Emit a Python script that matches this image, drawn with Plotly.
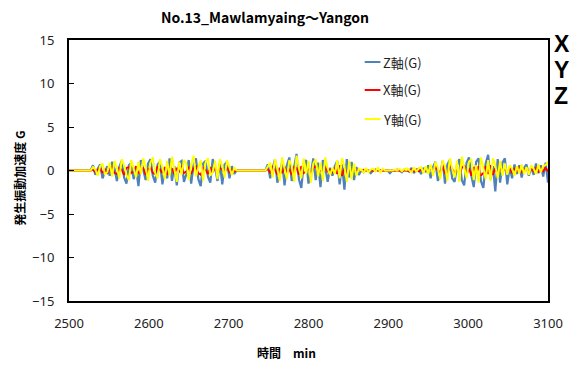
import numpy as np
import plotly.graph_objects as go

# ---- data -------------------------------------------------------------
STEP = 3  # sampling interval, min
T_MIN, T_MAX = 2500, 3100

# start time of each recorded segment (min)
SEG_START = [2530, 2749, 2866, 2923]

# Z axis (G)
Z_SEGS = [
    [0.6, -0.5, 0.2, 0.7, -0.9, -0.3, 0.5, -0.6, 1.0, 0.2,
     -1.2, 0.4, 1.1, -0.8, -1.5, 0.6, 0.9, -1.0, 0.3, -1.8,
     1.2, 0.1, -1.1, 0.8, 1.3, -0.6, -1.4, 0.7, 1.0, -1.6,
     0.2, -0.9, 1.4, -1.2, 0.5, -1.7, 0.9, 1.1, -1.3, -0.4,
     1.2, -1.5, 0.6, 1.4, -1.0, -1.8, 0.8, 1.1, -0.7, -1.4,
     1.3, 0.4, -1.2, 0.9, -1.6, 0.7, 1.0, -0.9, 0.5, -0.4],
    [0.7, -0.9, 0.3, 1.3, -1.4, -0.5, 1.0, -1.7, 0.6, 1.5,
     -1.2, 0.2, 1.9, -1.0, -2.0, 0.8, 1.2, -1.5, -0.3, 1.4,
     -1.1, 0.9, -1.9, 1.2, 0.4, -1.3, 0.3, -0.6, 0.5, 1.1,
     -1.6, 0.7, -2.2, 1.3, -0.8, 1.0, -1.1, 0.4, -0.5],
    [0.1, -0.2, 0.1, 0.0, -0.3, 0.0, 0.1, 0.0, 0.0, 0.0,
     0.0, 0.0, -0.3, 0.0, 0.0, 0.1, 0.0, -0.2, 0.1],
    [0.2, -0.1, 0.3, -0.3, 0.1, 0.2, -0.4, 0.3, -0.2, 0.6,
     -0.9, 0.4, 1.0, -1.2, -0.5, 1.1, -1.5, 0.7, 1.2, -0.9,
     -1.3, 0.6, 1.3, -1.1, -1.7, 0.9, 1.5, -0.6, -1.9, 1.0,
     1.4, -1.2, -2.0, 0.8, 1.8, -1.0, 0.5, -2.4, 1.3, -1.4,
     0.9, 1.4, -1.6, 0.4, -0.9, 0.7, -0.4, 0.6, -0.8, 0.3,
     0.7, -0.6, 0.4, -0.5, 0.8, -0.3, 0.6, -0.7, 0.9, -1.4],
]

# X axis (G)
X_SEGS = [
    [0.1, -0.2, 0.1, 0.3, -0.3, 0.1, -0.3, 0.2, 0.4, -0.3,
     -0.4, 0.3, 0.1, -0.5, 0.3, 0.4, -0.3, -0.1, 0.5, -0.4,
     0.2, 0.3, -0.5, 0.1, 0.4, -0.3, -0.4, 0.5, 0.1, -0.3,
     0.4, -0.5, 0.3, 0.2, -0.4, 0.3, -0.2, 0.5, -0.3, -0.1,
     0.4, -0.4, 0.3, 0.5, -0.3, -0.5, 0.3, 0.1, -0.4, 0.4,
     -0.2, 0.3, -0.4, 0.3, 0.1, -0.3, 0.4, -0.2, 0.1, -0.1],
    [0.2, -0.3, 0.4, 0.1, -0.5, 0.3, -0.3, 0.5, -0.4, 0.2,
     -0.5, 0.4, 0.3, -0.5, 0.5, -0.3, -0.1, 0.4, -0.6, 0.3,
     0.5, -0.4, 0.2, -0.5, 0.4, -0.1, 0.1, -0.2, 0.3, -0.4,
     0.6, -0.6, 0.3, -0.5, 0.4, -0.3, 0.2, -0.1, 0.1],
    [0.0, 0.1, 0.0, -0.1, 0.0, 0.0, 0.1, 0.0, 0.0, 0.0,
     0.0, 0.0, 0.0, 0.0, 0.0, 0.0, 0.0, -0.1, 0.0],
    [0.1, -0.1, 0.1, -0.1, 0.1, -0.1, 0.1, -0.1, 0.2, -0.2,
     0.3, -0.3, 0.4, 0.1, -0.4, 0.5, -0.3, -0.5, 0.6, 0.2,
     -0.4, 0.5, -0.6, 0.3, 0.6, -0.5, 0.3, -0.6, 0.4, -0.3,
     0.5, -0.6, -0.3, 0.5, -0.4, 0.6, -0.5, 0.3, -0.5, 0.4,
     -0.3, 0.3, -0.2, 0.3, -0.3, 0.2, -0.1, 0.3, -0.2, 0.1,
     0.2, -0.3, 0.2, -0.1, 0.3, -0.2, 0.3, -0.1, 0.3, -0.1],
]

# Y axis (G)
Y_SEGS = [
    [0.4, 0.1, -0.6, 0.5, 0.8, -0.4, -0.2, 0.9, -0.7, 1.1,
     0.3, -0.9, 1.3, 0.6, -0.5, -1.1, 1.2, 0.2, -0.8, 1.0,
     -0.4, 1.4, 0.5, -1.2, 0.9, 1.5, -0.3, -0.9, 1.3, 0.4,
     -1.0, 1.1, -0.6, 1.6, 0.2, -1.3, 1.0, -0.5, 1.2, 0.8,
     -1.1, 0.6, 1.7, -0.7, 0.3, 1.2, -1.2, 0.9, 1.4, -0.6,
     -0.2, 1.1, -1.0, 1.3, 0.5, -0.8, 1.2, 0.2, -0.5, 0.3],
    [0.5, 0.9, -0.8, 1.3, 0.2, -1.2, 1.5, 0.4, -1.0, 1.2,
     0.6, -1.3, 1.7, 0.3, -0.9, 1.4, -0.4, 1.1, -1.4, 0.8,
     1.3, -0.7, 0.9, -1.2, 1.5, 0.2, -0.5, 0.3, -0.4, 1.2,
     -0.9, 1.4, 0.5, -1.3, 1.1, -1.0, 0.8, -0.6, 0.2],
    [0.2, -0.3, 0.3, -0.2, 0.1, 0.2, -0.1, 0.3, -0.2, 0.2,
     0.0, 0.0, 0.0, 0.0, 0.1, 0.0, 0.2, -0.1, 0.2],
    [0.3, 0.1, -0.2, 0.3, -0.1, 0.2, 0.4, -0.3, 0.5, -0.4,
     0.7, -0.6, 1.0, 0.3, -1.0, 1.2, 0.5, -1.2, 1.4, 0.2,
     -0.8, 1.1, -1.3, 1.6, 0.4, -0.9, 1.0, 1.3, -1.1, 0.6,
     -1.4, 1.5, 0.3, -1.0, 1.2, -1.2, 1.4, 0.6, -0.9, 1.1,
     -0.6, 0.8, -0.5, 0.6, 0.2, -0.6, 0.5, -0.3, 0.7, -0.4,
     0.4, -0.5, 0.6, 0.2, -0.4, 0.7, -0.2, 0.5, 0.6, 1.0],
]

SERIES_NAMES = ["Z軸(G)", "X軸(G)", "Y軸(G)"]
SERIES_COLORS = ["#4F81BD", "#FF0000", "#FFFF00"]
SERIES_WIDTHS = [2.2, 1.8, 2.0]

TITLE = "No.13_Mawlamyaing～Yangon"
X_TITLE = "時間　min"
Y_TITLE = "発生振動加速度 G"
SIDE_LABELS = ["X", "Y", "Z"]


def assemble(segments):
    """Join the recorded segments into one trace, resting at 0 G between them."""
    xs, ys = [T_MIN], [0.0]
    for start, vals in zip(SEG_START, segments):
        t = start + STEP * np.arange(len(vals))
        if xs[-1] < start - STEP:
            xs.append(start - STEP)
            ys.append(0.0)
        xs.extend(t.tolist())
        ys.extend(vals)
        xs.append(float(t[-1] + STEP))
        ys.append(0.0)
    xs.append(T_MAX)
    ys.append(0.0)
    return xs, ys


fig = go.Figure()
for name, color, lw, segs in zip(SERIES_NAMES, SERIES_COLORS, SERIES_WIDTHS,
                                 [Z_SEGS, X_SEGS, Y_SEGS]):
    x, y = assemble(segs)
    fig.add_trace(go.Scatter(x=x, y=y, mode="lines", name=name,
                             line=dict(color=color, width=lw), showlegend=False))

# plot area in pixels (for placing the hand-made legend and labels)
L, R, T, B = 69, 555, 40, 301
W, H = R - L, B - T


def px(xp):
    return (xp - L) / W


def py(yp):
    return (B - yp) / H


shapes, annotations = [], []
legend_rows = [62, 90, 119]
for name, color, yrow in zip(SERIES_NAMES, SERIES_COLORS, legend_rows):
    shapes.append(dict(type="line", xref="paper", yref="paper",
                       x0=px(369), x1=px(385), y0=py(yrow), y1=py(yrow),
                       line=dict(color=color, width=2)))
    annotations.append(dict(text=name, xref="paper", yref="paper",
                            x=px(386), y=py(yrow), xanchor="left", yanchor="middle",
                            showarrow=False,
                            font=dict(family="Noto Sans CJK JP", size=13, color="#222")))

annotations.append(dict(text=f"<b>{Y_TITLE}</b>", xref="paper", yref="paper",
                        x=px(18), y=py(178), textangle=-90, showarrow=False,
                        xanchor="center", yanchor="middle",
                        font=dict(family="Noto Sans CJK JP", size=12, color="#000")))
annotations.append(dict(text=f"<b>{X_TITLE}</b>", xref="paper", yref="paper",
                        x=px(290), y=py(352), showarrow=False,
                        xanchor="center", yanchor="middle",
                        font=dict(family="Noto Sans CJK JP", size=12, color="#000")))

for lab, yl in zip(SIDE_LABELS, [44, 70, 96]):
    annotations.append(dict(text=f"<b>{lab}</b>", xref="paper", yref="paper",
                            x=px(559), y=py(yl), showarrow=False,
                            xanchor="left", yanchor="middle",
                            font=dict(family="Liberation Sans", size=23, color="#000")))

fig.update_layout(
    width=575, height=367,
    margin=dict(l=L, r=575 - R, t=T, b=367 - B),
    paper_bgcolor="white", plot_bgcolor="white",
    title=dict(text=f"<b>{TITLE}</b>", x=265 / 575, xanchor="center",
               y=1 - 18 / 367, yanchor="middle",
               font=dict(family="Noto Sans CJK JP", size=14, color="#000")),
    xaxis=dict(range=[T_MIN, T_MAX], dtick=100, tick0=T_MIN, showgrid=False,
               zeroline=False, showline=True, mirror=True, linecolor="#000",
               linewidth=2, ticks="", ticklabelstandoff=9,
               tickfont=dict(family="Noto Sans", size=13, color="#222")),
    yaxis=dict(range=[-15, 15], dtick=5, showgrid=False, zeroline=False,
               showline=True, mirror=True, linecolor="#000", linewidth=2,
               ticks="inside", ticklen=5, tickcolor="#000", ticklabelstandoff=10,
               tickfont=dict(family="Noto Sans", size=13, color="#222")),
    shapes=shapes, annotations=annotations,
)

fig.write_html("out.html")
